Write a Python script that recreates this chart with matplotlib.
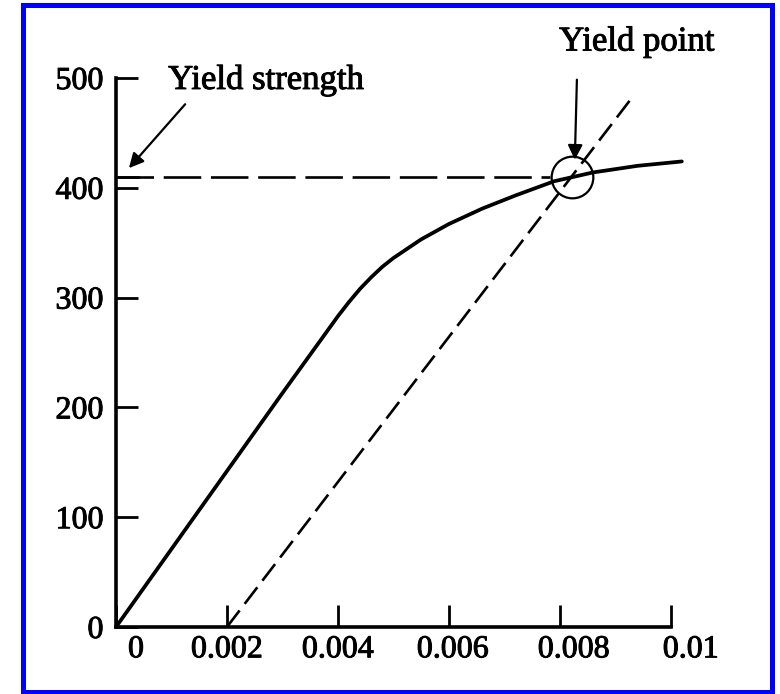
import matplotlib
matplotlib.use('Agg')
import matplotlib.pyplot as plt
import matplotlib.patches as patches
import matplotlib.transforms as mtransforms
import matplotlib.patheffects as pe

# stress-strain curve
strain = [0, 0.001, 0.002, 0.003, 0.0037, 0.0040, 0.0042, 0.0044, 0.0046, 0.0048,
          0.0050, 0.0055, 0.0060, 0.0066, 0.0072, 0.0079, 0.0086, 0.0094, 0.0102]
stress = [0, 71, 142, 213, 262, 283, 296, 308, 318.5, 328,
          336, 353, 367, 381, 393, 406, 414, 420, 424]

# 0.2% offset line
offset_x = [0.002, 0.0093]
offset_y = [0, 482]

yield_strength = 410
yield_point = (0.00822, 410)

xticks = [0, 0.002, 0.004, 0.006, 0.008, 0.01]
xtick_labels = ['0', '0.002', '0.004', '0.006', '0.008', '0.01']
yticks = [0, 100, 200, 300, 400, 500]
ytick_labels = ['0', '100', '200', '300', '400', '500']

plt.rcParams['font.family'] = ['Liberation Serif', 'DejaVu Serif']
plt.rcParams['lines.scale_dashes'] = False
thick = [pe.withStroke(linewidth=0.7, foreground='black')]

fig = plt.figure(figsize=(7.8, 6.94), dpi=100)
ax = fig.add_axes([116/780, 67/694, 588/780, 549/694])

ax.plot(strain, stress, color='black', lw=2.7, clip_on=False, solid_capstyle='round',
        solid_joinstyle='round')
ax.plot(offset_x, offset_y, color='black', lw=1.9, dashes=(15, 6), clip_on=False)
ax.plot([0, 0.00782], [yield_strength, yield_strength], color='black', lw=1.9,
        dashes=(27, 7), clip_on=False)
ax.plot([0, 0.0004], [yield_strength, yield_strength], color='black', lw=1.9, clip_on=False)
ax.plot([yield_point[0]], [yield_point[1]], 'o', mfc='none', mec='black', ms=30, mew=1.6,
        clip_on=False)

# labels with arrows
ax.text(0.00094, 498, 'Yield strength', fontsize=25, ha='left', va='center', path_effects=thick)
ax.annotate('', xy=(0.0002, 416), xytext=(0.00128, 478),
            arrowprops=dict(arrowstyle='-|>', color='black', lw=1.6, mutation_scale=22))
ax.text(0.00939, 533, 'Yield point', fontsize=25, ha='center', va='center', path_effects=thick)
ax.annotate('', xy=(0.00827, 423), xytext=(0.00831, 501),
            arrowprops=dict(arrowstyle='-|>', color='black', lw=1.6, mutation_scale=22),
            annotation_clip=False)

ax.set_xlim(0, 0.0106)
ax.set_ylim(0, 500)
ax.spines['top'].set_visible(False)
ax.spines['right'].set_visible(False)
ax.spines['left'].set_bounds(0, 500)
ax.spines['bottom'].set_bounds(0, 0.01)
ax.spines['left'].set_linewidth(2.6)
ax.spines['bottom'].set_linewidth(2.6)

ax.set_xticks(xticks)
ax.set_xticklabels(xtick_labels)
ax.set_yticks(yticks)
ax.set_yticklabels(ytick_labels)
ax.tick_params(direction='in', length=16, width=2, labelsize=23)
ax.tick_params(axis='y', pad=9)
ax.tick_params(axis='x', pad=6)

# some x labels sit off their ticks in the original
shifts = [20, 0, 0, 4, 14, 20]
for lab, dx in zip(ax.get_xticklabels(), shifts):
    lab.set_transform(lab.get_transform() + mtransforms.ScaledTranslation(dx/100, 0, fig.dpi_scale_trans))
for lab in ax.get_xticklabels() + ax.get_yticklabels():
    lab.set_path_effects(thick)

# blue frame
fig.patches.append(patches.Rectangle((22.5/780, 2/694), 749.5/780, 687/694, transform=fig.transFigure,
                                     fill=False, ec='#0000ff', lw=3.6))

plt.savefig('out.png', dpi=100)
